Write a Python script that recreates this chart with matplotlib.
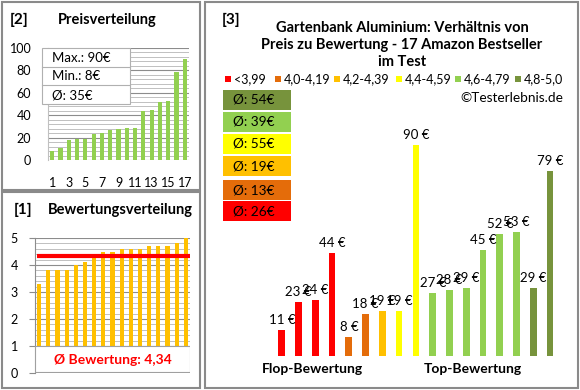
import numpy as np
import matplotlib
matplotlib.use("Agg")
import matplotlib.pyplot as plt
from matplotlib.patches import Rectangle

plt.rcParams['font.family'] = ['Lato', 'DejaVu Sans']

# data
price_sorted = [8, 11, 18, 19, 19, 23, 24, 27, 28, 29, 29, 44, 45, 52, 53, 79, 90]
rating_sorted = [3.3, 3.8, 3.8, 3.8, 4.0, 4.1, 4.3, 4.5, 4.5, 4.6, 4.6, 4.6, 4.7, 4.7, 4.7, 4.8, 5.0]
rating_mean = 4.34
bar_prices = [11, 23, 24, 44, 8, 18, 19, 19, 90, 27, 28, 29, 45, 52, 53, 29, 79]
bar_groups = [0, 0, 0, 0, 1, 1, 2, 3, 3, 4, 4, 4, 4, 4, 4, 5, 5]
group_labels = ["<3,99", "4,0-4,19", "4,2-4,39", "4,4-4,59", "4,6-4,79", "4,8-5,0"]
group_colors = ["#FF0000", "#E46C0A", "#FFC000", "#FFFF00", "#92D050", "#77933C"]
group_avgs = [26, 13, 19, 55, 39, 54]

W, H = 580, 390
fig = plt.figure(figsize=(W / 100, H / 100), dpi=100)


def ax_px(l, t, r, b):
    return fig.add_axes([l / W, 1 - b / H, (r - l) / W, (b - t) / H])


def fx(x):
    return x / W


def fy(y):
    return 1 - y / H


# panel frames
for (l, t, r, b) in [(2, 2, 200, 190), (2, 192, 200, 388), (205, 2, 578, 388)]:
    fig.patches.append(Rectangle((fx(l), fy(b)), (r - l) / W, (b - t) / H,
                                 transform=fig.transFigure, fill=False,
                                 edgecolor="#8a8a8a", lw=1.5))

# ---- [2] Preisverteilung
fig.text(fx(10), fy(20), "[2]", fontsize=11, fontweight="bold", va="center")
fig.text(fx(58), fy(20), "Preisverteilung", fontsize=10.5, fontweight="bold", va="center")

ax1 = ax_px(48, 48, 189, 160)
x1 = np.arange(1, 18)
ax1.bar(x1, price_sorted, width=0.5, color="#92D050", zorder=3)
ax1.set_xlim(0.5, 17.5)
ax1.set_ylim(0, 100)
ax1.set_yticks(range(0, 101, 20))
ax1.set_yticks(range(0, 101, 4), minor=True)
ax1.set_xticks(range(1, 18, 2))
ax1.grid(axis="y", which="major", color="#8c8c8c", lw=0.8, zorder=0)
ax1.grid(axis="y", which="minor", color="#c0c0c0", lw=0.7, zorder=0)
for s in ["top", "right", "bottom"]:
    ax1.spines[s].set_visible(False)
ax1.spines["left"].set_color("#c0c0c0")
ax1.tick_params(axis="y", which="both", length=0, labelsize=9, pad=12)
ax1.tick_params(axis="x", length=0, labelsize=9, pad=12)

# stats box
fig.patches.append(Rectangle((fx(42), fy(104)), 88 / W, 56 / H, transform=fig.transFigure,
                             facecolor="white", edgecolor="#b0b0b0", lw=0.8, zorder=5))
for yy in [67, 85]:
    fig.lines.append(plt.Line2D([fx(42), fx(130)], [fy(yy), fy(yy)], transform=fig.transFigure,
                                color="#b0b0b0", lw=0.8, zorder=6))
stats = ["Max.: %d€" % max(price_sorted), "Min.: %d€" % min(price_sorted),
         "Ø: %d€" % round(np.mean(price_sorted))]
for i, s in enumerate(stats):
    fig.text(fx(52), fy(58 + i * 18.5), s, fontsize=9.5, va="center", zorder=7)

# ---- [1] Bewertungsverteilung
fig.text(fx(14), fy(210), "[1]", fontsize=11, fontweight="bold", va="center")
fig.text(fx(48), fy(210), "Bewertungsverteilung", fontsize=10.5, fontweight="bold", va="center")

ax2 = ax_px(34.5, 238, 190.5, 373)
x2 = np.arange(1, 18)
ax2.bar(x2, rating_sorted, width=0.45, color="#FFC000", zorder=3)
ax2.set_xlim(0.5, 17.5)
ax2.set_ylim(0, 5)
ax2.set_yticks(range(0, 6))
ax2.set_yticks(np.arange(0, 5.01, 0.2), minor=True)
ax2.set_xticks([])
ax2.grid(axis="y", which="major", color="#8c8c8c", lw=0.8, zorder=0)
ax2.grid(axis="y", which="minor", color="#c0c0c0", lw=0.7, zorder=0)
for s in ["top", "right", "bottom"]:
    ax2.spines[s].set_visible(False)
ax2.spines["left"].set_color("#8c8c8c")
ax2.tick_params(axis="y", which="major", length=4, color="#8c8c8c", labelsize=9, pad=8)
ax2.tick_params(axis="y", which="minor", length=0)
ax2.plot([0.8, 17.5], [rating_mean, rating_mean], color="#FF0000", lw=3, zorder=4,
         solid_capstyle="butt")
ax2.add_patch(Rectangle((0.5, 0.02), 17, 0.98, facecolor="white", edgecolor="#a0a0a0",
                        lw=0.8, zorder=5))
ax2.text(9, 0.5, "Ø Bewertung: " + ("%.2f" % rating_mean).replace(".", ","),
         color="#FF0000", fontsize=10, fontweight="bold", ha="center", va="center", zorder=6)

# ---- [3] main chart
fig.text(fx(222), fy(20), "[3]", fontsize=11, fontweight="bold", va="center")
title = "Gartenbank Aluminium: Verhältnis von\nPreis zu Bewertung - 17 Amazon Bestseller\nim Test"
fig.text(fx(402), fy(45), title, fontsize=10.5, fontweight="bold", ha="center", va="center",
         linespacing=1.25)

leg_x = [228, 278, 337, 399, 458, 518]
for i, lab in enumerate(group_labels):
    fig.patches.append(Rectangle((fx(leg_x[i] - 3), fy(82)), 6 / W, 6 / H,
                                 transform=fig.transFigure, facecolor=group_colors[i], lw=0))
    fig.text(fx(leg_x[i] + 6), fy(79), lab, fontsize=9, va="center")

fig.text(fx(563), fy(98), "©Testerlebnis.de", fontsize=9.8, ha="right", va="center")

box_tops = [90, 112, 134, 156, 180, 201]
for j, t in enumerate(box_tops):
    g = 5 - j
    fig.patches.append(Rectangle((fx(223), fy(t + 20)), 68 / W, 20 / H,
                                 transform=fig.transFigure, facecolor=group_colors[g], lw=0))
    fig.text(fx(233), fy(t + 10), "Ø: %d€" % group_avgs[g], fontsize=9.8, va="center")

ax3 = ax_px(265, 121.5, 566.8, 356)
x3 = np.arange(len(bar_prices))
cols = [group_colors[g] for g in bar_groups]
ax3.bar(x3, bar_prices, width=0.4, color=cols)
ax3.set_xlim(-1, 17)
ax3.set_ylim(0, 100)
ax3.axis("off")
for xi, v in zip(x3, bar_prices):
    ax3.annotate("%d €" % v, (xi, v), xytext=(0, 3), textcoords="offset points",
                 ha="center", va="bottom", fontsize=9.5)

fig.text(fx(312), fy(369), "Flop-Bewertung", fontsize=10, fontweight="bold", ha="center", va="center")
fig.text(fx(473), fy(369), "Top-Bewertung", fontsize=10, fontweight="bold", ha="center", va="center")

fig.savefig("out.png", dpi=100)
